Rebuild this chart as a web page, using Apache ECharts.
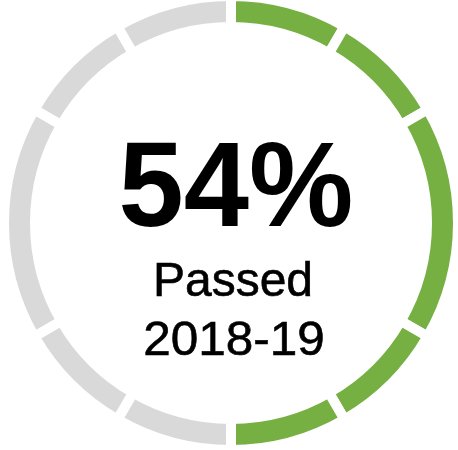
<!DOCTYPE html>
<html>
<head>
<meta charset="utf-8">
<script src="https://cdn.jsdelivr.net/npm/echarts@6/dist/echarts.min.js"></script>
<style>
    html, body { margin: 0; padding: 0; background: #fff; }
    #chart { width: 458px; height: 450px; }
</style>
</head>
<body>
<div id="chart"></div>
<script>
// ring segments, degrees, clockwise from 12 o'clock
var passedSegments = [30, 30, 60, 30, 30];
var remainingSegments = [30, 30, 60, 30, 30];
var percentText = '54%';
var statusText = 'Passed';
var yearText = '2018-19';

window.onload = function () {
    var chart = echarts.init(document.getElementById('chart'), null, { renderer: 'canvas' });

    var data = [];
    for (var i = 0; i < passedSegments.length; i++) {
        data.push({ name: 'passed' + i, value: passedSegments[i], itemStyle: { color: '#76B043' } });
    }
    for (var j = 0; j < remainingSegments.length; j++) {
        data.push({ name: 'rest' + j, value: remainingSegments[j], itemStyle: { color: '#D9D9D9' } });
    }

    var font = 'Liberation Sans, Arial, sans-serif';

    var option = {
        animation: false,
        backgroundColor: '#fff',
        series: [{
            type: 'pie',
            silent: true,
            center: [231, 223],
            radius: [196, 227],
            startAngle: 90,
            clockwise: true,
            label: { show: false },
            labelLine: { show: false },
            itemStyle: {
                borderColor: '#fff',
                borderWidth: 10
            },
            data: data
        }],
        graphic: [
            {
                type: 'text',
                x: 236, y: 193,
                scaleX: 0.97,
                style: {
                    text: percentText, x: 0, y: 0,
                    font: 'bold 121px ' + font, fill: '#000',
                    align: 'center', verticalAlign: 'middle'
                }
            },
            {
                type: 'text',
                style: {
                    text: statusText, x: 233, y: 283,
                    font: '48px ' + font, fill: '#000',
                    stroke: '#000', lineWidth: 0.6,
                    align: 'center', verticalAlign: 'middle'
                }
            },
            {
                type: 'text',
                x: 234, y: 342,
                scaleX: 1.03,
                style: {
                    text: yearText, x: 0, y: 0,
                    font: '48px ' + font, fill: '#000',
                    stroke: '#000', lineWidth: 0.6,
                    align: 'center', verticalAlign: 'middle'
                }
            }
        ]
    };

    chart.setOption(option);
};
</script>
</body>
</html>
